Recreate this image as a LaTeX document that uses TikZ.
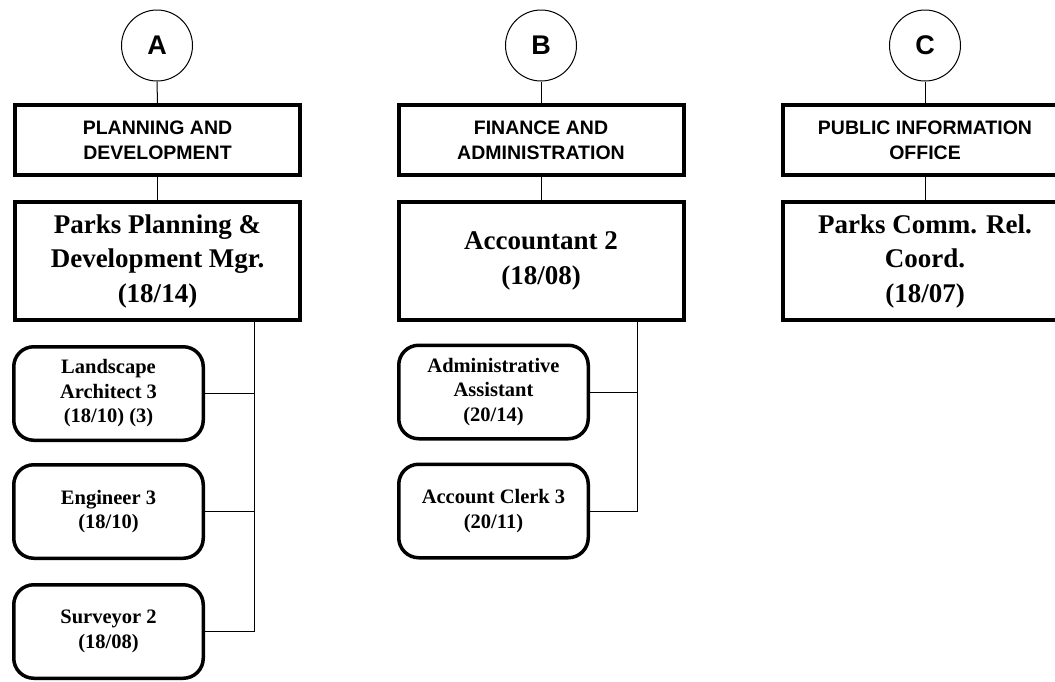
\documentclass[tikz,border=0pt]{standalone}
\usepackage{fontspec}
\setmainfont{Liberation Serif}
\setsansfont{Liberation Sans}
\begin{document}
\begin{tikzpicture}[x=1pt,y=-1pt,
  letter/.style={circle,draw,line width=1pt,minimum size=71pt,inner sep=0pt,
    font=\sffamily\bfseries\fontsize{27}{30}\selectfont},
  dept/.style={draw,line width=4pt,minimum width=285pt,minimum height=70pt,inner sep=0pt,
    align=center,font=\sffamily\bfseries\fontsize{19.5}{25}\selectfont},
  mgr/.style={draw,line width=4pt,minimum width=285pt,minimum height=118pt,inner sep=0pt,
    align=center,font=\bfseries\fontsize{27}{34.5}\selectfont},
  staff/.style={draw,line width=3.5pt,rounded corners=20pt,minimum width=189.5pt,minimum height=93.5pt,
    inner sep=0pt,align=center,font=\bfseries\fontsize{20.5}{24.5}\selectfont},
  link/.style={line width=1pt}]
\useasboundingbox (0,0) rectangle (1055,681);
\clip (0,0) rectangle (1055,681);
% column A
\node[letter] (cA) at (157,45.5) {A};
\node[dept] (hA) at (157.5,140) {PLANNING AND\\DEVELOPMENT};
\node[mgr] (mA) at (157.5,261) {Parks Planning \&\\Development Mgr.\\(18/14)};
\node[staff] (s1) at (108.5,393.5) {Landscape\\Architect 3\\(18/10) (3)};
\node[staff] (s2) at (108.5,511.5) {Engineer 3\\(18/10)};
\node[staff] (s3) at (108.5,631.5) {Surveyor 2\\(18/08)};
\coordinate (jA) at (254,321);
\draw[link] (cA) -- (hA);
\draw[link] (hA) -- (mA);
\draw[link] (jA) |- (s3.east);
\draw[link] (jA) |- (s1.east);
\draw[link] (jA) |- (s2.east);
% column B
\node[letter] (cB) at (541,45.5) {B};
\node[dept] (hB) at (541,140) {FINANCE AND\\ADMINISTRATION};
\node[mgr] (mB) at (541,261) {Accountant 2\\(18/08)};
\node[staff] (t1) at (493.5,392) {Administrative\\Assistant\\(20/14)};
\node[staff] (t2) at (493.5,511) {Account Clerk 3\\(20/11)};
\coordinate (jB) at (637,321);
\draw[link] (cB) -- (hB);
\draw[link] (hB) -- (mB);
\draw[link] (jB) |- (t2.east);
\draw[link] (jB) |- (t1.east);
% column C
\node[letter] (cC) at (925,45.5) {C};
\node[dept] (hC) at (925,140) {PUBLIC INFORMATION\\OFFICE};
\node[mgr] (mC) at (925,261) {Parks Comm. Rel.\\Coord.\\(18/07)};
\draw[link] (cC) -- (hC);
\draw[link] (hC) -- (mC);
\end{tikzpicture}
\end{document}
